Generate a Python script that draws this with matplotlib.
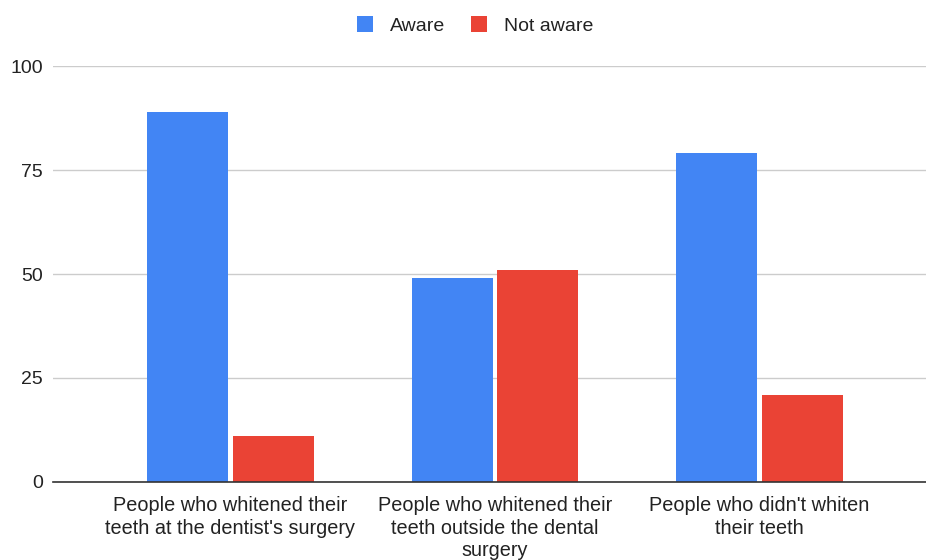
import numpy as np
import matplotlib.pyplot as plt

plt.rcParams['font.family'] = ['Liberation Sans', 'DejaVu Sans']

# Dane z wykresu
categories = ["People who whitened their\nteeth at the dentist's surgery",
              "People who whitened their\nteeth outside the dental\nsurgery",
              "People who didn't whiten\ntheir teeth"]
aware = [89, 49, 79]
not_aware = [11, 51, 21]
yticks = [0, 25, 50, 75, 100]

blue = '#4285F4'
red = '#EA4335'

fig = plt.figure(figsize=(9.26, 5.6), dpi=100)
ax = fig.add_axes([0.0572, 0.1393, 0.9428, 0.7428])

x = np.arange(len(categories))
w = 0.306
ax.bar(x - 0.1615, aware, w, color=blue, label='Aware', zorder=3)
ax.bar(x + 0.1615, not_aware, w, color=red, label='Not aware', zorder=3)

ax.set_xlim(-0.671, 2.63)
ax.set_ylim(0, 100)
ax.set_yticks(yticks)
ax.set_yticklabels([str(t) for t in yticks], fontsize=14, color='#222222')
ax.set_xticks(x)
ax.set_xticklabels(categories, fontsize=14.3, color='#222222', linespacing=1.25)
ax.tick_params(axis='both', length=0)
ax.tick_params(axis='x', pad=10)
ax.tick_params(axis='y', pad=7)

ax.grid(axis='y', color='#cccccc', linewidth=1, zorder=0)
for s in ['top', 'right', 'left']:
    ax.spines[s].set_visible(False)
ax.spines['bottom'].set_color('#333333')
ax.spines['bottom'].set_linewidth(1.2)
ax.spines['bottom'].set_zorder(4)

fig.legend(loc='upper center', bbox_to_anchor=(0.513, 1.002), ncol=2, frameon=False,
           fontsize=14, handlelength=0.82, handleheight=0.82, columnspacing=1.3,
           handletextpad=0.88, labelcolor='#222222')

plt.savefig('out.png', dpi=100)
